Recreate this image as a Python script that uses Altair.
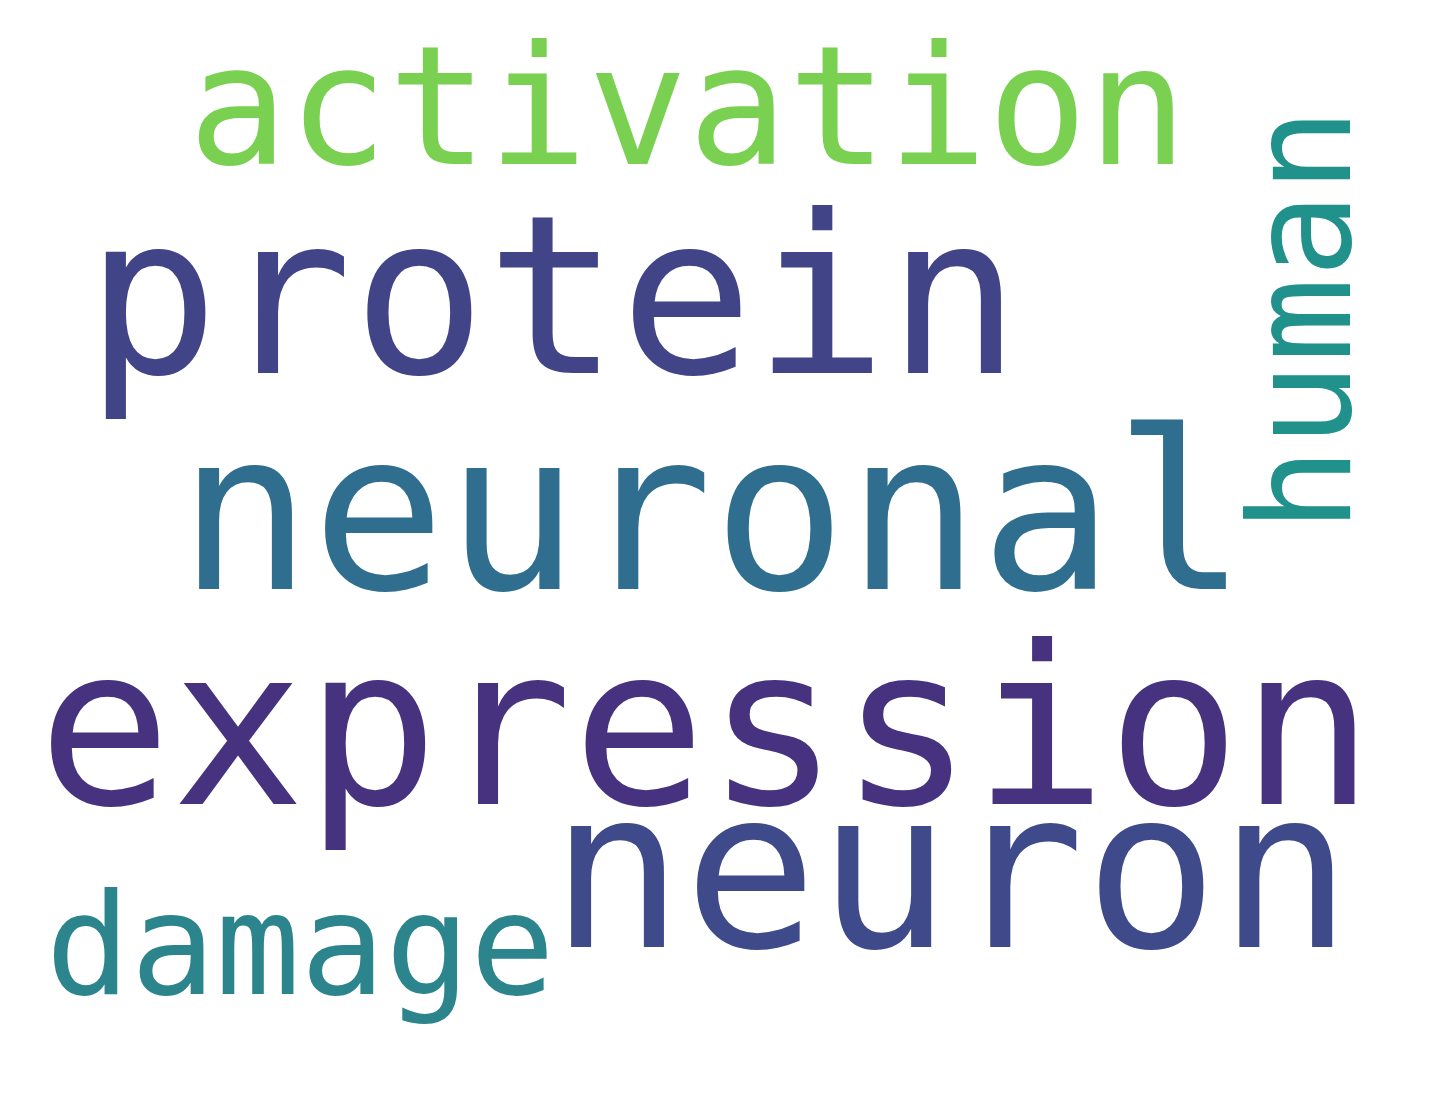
import altair as alt
import pandas as pd

words = ["activation", "protein", "neuronal", "expression", "neuron", "damage", "human"]
x_pos = [182, 78, 172, 30, 548, 38, 1357]
y_pos = [158, 370, 590, 808, 953, 1000, 532]
font_sizes = [166, 222, 222, 222, 222, 141, 141]
angles = [0, 0, 0, 0, 0, 0, 270]
colors = ["#7ad151", "#414487", "#2f6e8e", "#46327e", "#3e4a89", "#2c858d", "#21918c"]

df = pd.DataFrame({"word": words, "x": x_pos, "y": y_pos, "size": font_sizes,
                   "angle": angles, "color": colors})

chart = alt.Chart(df).mark_text(font="DejaVu Sans Mono", align="left", baseline="alphabetic").encode(
    x=alt.X("x:Q", scale=alt.Scale(domain=[0, 1455], nice=False, zero=False), axis=None),
    y=alt.Y("y:Q", scale=alt.Scale(domain=[1106, 0], nice=False, zero=False), axis=None),
    text="word:N",
    size=alt.Size("size:Q", scale=None, legend=None),
    angle=alt.Angle("angle:Q", scale=None),
    color=alt.Color("color:N", scale=None, legend=None),
).properties(width=1439, height=1090, padding=0, autosize="none", background="white"
).configure_view(stroke=None)

chart.save("out.html", embed_options={"renderer": "svg", "actions": False})
